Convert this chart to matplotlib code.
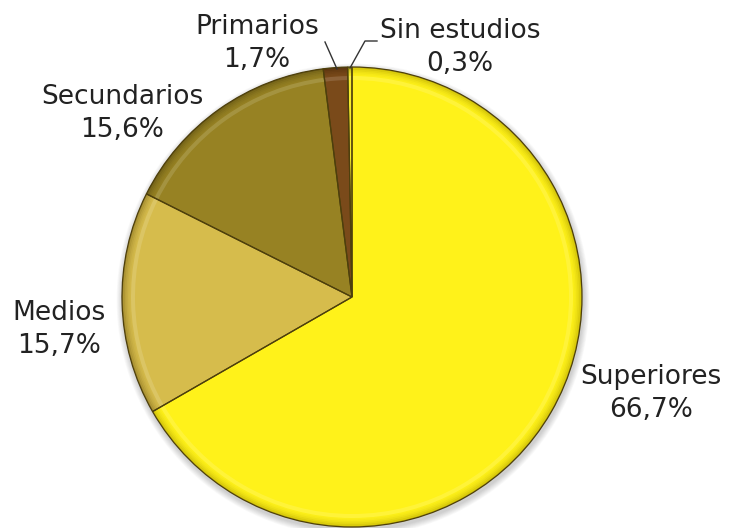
import matplotlib
matplotlib.use("Agg")
import matplotlib.pyplot as plt
from matplotlib.patches import Wedge, Circle
import numpy as np

categories = ["Superiores", "Medios", "Secundarios", "Primarios", "Sin estudios"]
values = [66.7, 15.7, 15.6, 1.7, 0.3]
labels = ["66,7%", "15,7%", "15,6%", "1,7%", "0,3%"]

colors = ["#FFF21A", "#D6BC4C", "#978223", "#7A4A1A", "#F5EC2A"]
edge_colors = ["#B8A800", "#8A7320", "#5E5012", "#4A2A0A", "#8A7C10"]

W, H = 729, 528
fig = plt.figure(figsize=(W / 100, H / 100), dpi=100)
ax = fig.add_axes([0, 0, 1, 1])

cx, cy, r = 352, H - 297, 230

# soft drop shadow under the pie
for k in range(8, 0, -1):
    ax.add_patch(Circle((cx + 1, cy - 3), r + k * 0.8, facecolor="#000000",
                        alpha=0.025, edgecolor="none", zorder=0))

wedges, _ = ax.pie(values, colors=colors, startangle=90, counterclock=False,
                   radius=r, center=(cx, cy), frame=True,
                   wedgeprops=dict(edgecolor="none", linewidth=0, zorder=1))
ax.set_xlim(0, W)
ax.set_ylim(0, H)
ax.set_aspect("equal")
ax.axis("off")

# bevel: darker rim fading inward, then a light highlight band
for w, c, ec in zip(wedges, colors, edge_colors):
    t1, t2 = w.theta1, w.theta2
    for i, a in enumerate([0.7, 0.5, 0.35, 0.22, 0.12, 0.05]):
        ax.add_patch(Wedge((cx, cy), r - i * 1.5, t1, t2, width=1.5, facecolor=ec,
                           edgecolor="none", alpha=a, zorder=2))
    base = np.array(matplotlib.colors.to_rgb(c))
    light = base + (1 - base) * 0.3
    ax.add_patch(Wedge((cx, cy), r - 9, t1, t2, width=4, facecolor=light,
                       edgecolor="none", alpha=0.45, zorder=2))
    ax.add_patch(Wedge((cx, cy), r, t1, t2, facecolor="none", edgecolor="#4d3f0c",
                       linewidth=0.9, zorder=3))

fs = 19
txt = dict(fontsize=fs, color="#222222", ha="center", va="center",
           family="DejaVu Sans", linespacing=1.35)

ax.text(651, H - 394, f"{categories[0]}\n{labels[0]}", **txt)
ax.text(59, H - 329, f"{categories[1]}\n{labels[1]}", **txt)
ax.text(122, H - 114, f"{categories[2]}\n{labels[2]}", **txt)
ax.text(257, H - 43, f"{categories[3]}\n{labels[3]}", **txt)
ax.text(460, H - 48, f"{categories[4]}\n{labels[4]}", **txt)

# leader lines for the two narrow slices
ax.plot([325, 337], [H - 42, H - 69], color="#333333", lw=1.0, zorder=4)
ax.plot([350, 365, 377], [H - 68, H - 41, H - 41], color="#333333", lw=1.0, zorder=4)

fig.savefig("out.png", dpi=100)
